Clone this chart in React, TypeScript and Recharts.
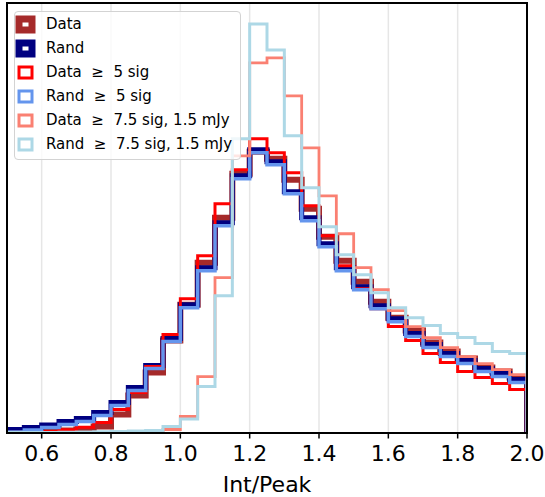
import React from "react";
import { CartesianGrid, ComposedChart, Line, XAxis, YAxis } from "recharts";

// histogram bin edges (width 0.05)
const BIN_EDGES = [
  0.5, 0.55, 0.6, 0.65, 0.7, 0.75, 0.8, 0.85, 0.9, 0.95, 1.0, 1.05, 1.1, 1.15, 1.2, 1.25,
  1.3, 1.35, 1.4, 1.45, 1.5, 1.55, 1.6, 1.65, 1.7, 1.75, 1.8, 1.85, 1.9, 1.95, 2.0,
];
const X_TICKS = [0.6, 0.8, 1.0, 1.2, 1.4, 1.6, 1.8, 2.0];

// normalised counts per bin
const DATA_ALL = [
  0.003, 0.005, 0.01, 0.02, 0.03, 0.06, 0.18, 0.37, 0.6, 0.92, 1.28, 1.7, 2.15, 2.59, 2.81,
  2.74, 2.53, 2.24, 1.96, 1.72, 1.51, 1.31, 1.15, 1.02, 0.9, 0.81, 0.74, 0.65, 0.61, 0.55,
];
const RAND_ALL = [
  0.03, 0.05, 0.075, 0.11, 0.14, 0.2, 0.3, 0.45, 0.67, 0.94, 1.28, 1.65, 2.1, 2.57, 2.83,
  2.71, 2.41, 2.15, 1.89, 1.65, 1.46, 1.27, 1.14, 0.99, 0.88, 0.79, 0.72, 0.64, 0.59, 0.53,
];
const DATA_5SIG = [
  0.003, 0.005, 0.01, 0.027, 0.053, 0.1, 0.23, 0.4, 0.66, 0.98, 1.34, 1.77, 2.29, 2.63, 2.94,
  2.8, 2.6, 2.27, 1.97, 1.67, 1.44, 1.24, 1.06, 0.92, 0.79, 0.7, 0.61, 0.55, 0.49, 0.43,
];
const RAND_5SIG = [
  0.005, 0.025, 0.05, 0.08, 0.11, 0.17, 0.27, 0.42, 0.64, 0.91, 1.25, 1.62, 2.07, 2.54, 2.8,
  2.68, 2.39, 2.12, 1.86, 1.62, 1.43, 1.24, 1.11, 0.96, 0.85, 0.76, 0.69, 0.61, 0.56, 0.5,
];
const DATA_75SIG = [
  0, 0, 0, 0, 0, 0, 0.001, 0.003, 0.005, 0.03, 0.16, 0.56, 1.55, 2.77, 3.7,
  3.75, 3.37, 2.85, 2.37, 1.99, 1.65, 1.43, 1.22, 1.06, 0.95, 0.85, 0.76, 0.69, 0.63, 0.58,
];
const RAND_75SIG = [
  0, 0, 0, 0.003, 0.005, 0.007, 0.01, 0.015, 0.02, 0.06, 0.135, 0.46, 1.37, 2.94, 4.09,
  3.83, 2.97, 2.45, 2.06, 1.78, 1.58, 1.4, 1.25, 1.15, 1.07, 0.99, 0.95, 0.89, 0.81, 0.79,
];

const SERIES = [
  { key: "data", name: "Data", color: "#a52a2a", width: 6, thick: true, values: DATA_ALL },
  { key: "rand", name: "Rand", color: "#000080", width: 5, thick: true, values: RAND_ALL },
  { key: "data5", name: "Data  \u2265  5 sig", color: "#ff0000", width: 3, thick: false, values: DATA_5SIG },
  { key: "rand5", name: "Rand  \u2265  5 sig", color: "#6495ed", width: 3.5, thick: false, values: RAND_5SIG },
  { key: "data75", name: "Data  \u2265  7.5 sig, 1.5 mJy", color: "#fa8072", width: 2.8, thick: false, values: DATA_75SIG },
  { key: "rand75", name: "Rand  \u2265  7.5 sig, 1.5 mJy", color: "#add8e6", width: 3, thick: false, values: RAND_75SIG },
];

// step outline: rise at first edge, one point per bin, fall at last edge
function buildRows() {
  const zero: Record<string, number> = {};
  SERIES.forEach((s) => (zero[s.key] = 0));
  const rows: Record<string, number>[] = [{ x: BIN_EDGES[0], ...zero }];
  for (let i = 0; i < BIN_EDGES.length; i++) {
    const row: Record<string, number> = { x: BIN_EDGES[i] };
    const bin = Math.min(i, BIN_EDGES.length - 2);
    SERIES.forEach((s) => (row[s.key] = s.values[bin]));
    rows.push(row);
  }
  rows.push({ x: BIN_EDGES[BIN_EDGES.length - 1], ...zero });
  return rows;
}

const rows = buildRows();
const FONT = "'DejaVu Sans', sans-serif";

function LegendBox() {
  return (
    <div
      style={{
        position: "absolute",
        left: 14,
        top: 11,
        width: 227,
        height: 149,
        boxSizing: "border-box",
        border: "1px solid #d3d3d3",
        borderRadius: 4,
        background: "rgba(255,255,255,0.8)",
        paddingTop: 0,
      }}
    >
      {SERIES.map((s) => (
        <div key={s.key} style={{ display: "flex", alignItems: "center", height: 24 }}>
          <svg width={21} height={19} style={{ marginLeft: 0, flex: "none" }}>
            <rect x={4} y={4} width={13} height={11} fill="none" stroke={s.color} strokeWidth={s.thick ? 7 : 3} />
          </svg>
          <span style={{ marginLeft: 10, fontSize: 15, color: "#000", whiteSpace: "pre", fontFamily: FONT }}>{s.name}</span>
        </div>
      ))}
    </div>
  );
}

export default function App() {
  return (
    <div style={{ position: "absolute", left: 0, top: 0, width: 545, height: 497, background: "#fff", fontFamily: FONT }}>
      <ComposedChart width={545} height={497} data={rows} margin={{ top: 3, right: 18, left: 7, bottom: 0 }}>
        <CartesianGrid vertical horizontal={false} stroke="#e6e6e6" strokeWidth={1.5} />
        <XAxis
          dataKey="x"
          type="number"
          domain={[0.5, 2.0]}
          ticks={X_TICKS}
          allowDataOverflow
          tickFormatter={(v) => Number(v).toFixed(1)}
          axisLine={false}
          tickLine={{ stroke: "#000", strokeWidth: 1.5 }}
          tickSize={6}
          tickMargin={7}
          height={64.5}
          tick={{ fontSize: 22, fill: "#000", fontFamily: FONT }}
          label={{ value: "Int/Peak", position: "insideBottom", offset: 5, fontSize: 22, fill: "#000", fontFamily: FONT }}
        />
        <YAxis hide domain={[0, 4.3]} allowDataOverflow />
        {SERIES.map((s) => (
          <Line
            key={s.key}
            dataKey={s.key}
            type="stepAfter"
            stroke={s.color}
            strokeWidth={s.width}
            strokeLinejoin="miter"
            dot={false}
            activeDot={false}
            isAnimationActive={false}
          />
        ))}
      </ComposedChart>
      <div
        style={{
          position: "absolute",
          left: 6,
          top: 2,
          width: 522,
          height: 432,
          boxSizing: "border-box",
          border: "2px solid #000",
          pointerEvents: "none",
        }}
      />
      <LegendBox />
    </div>
  );
}
